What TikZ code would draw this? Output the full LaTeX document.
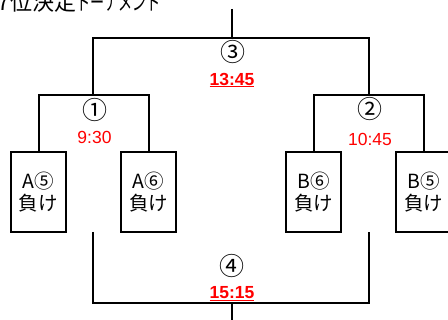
\documentclass[tikz,border=0pt]{standalone}
\usepackage{fontspec}
\setmainfont{Liberation Sans}
\newfontfamily\jp{Noto Sans CJK JP}
\newfontfamily\jpn[FakeStretch=0.64]{Noto Sans CJK JP}
\usepackage{tikz}
\usetikzlibrary{arrows,shapes}

\begin{document}
\begin{tikzpicture}[x=1pt,y=-1pt,line width=2pt]
\useasboundingbox (0,0) rectangle (448,320);
\tikzstyle{every node}=[inner sep=0pt]
\tikzstyle{loser}=[draw,line width=2pt,minimum width=55pt,minimum height=80pt,align=center,font=\jp\fontsize{19.5}{22}\selectfont]
\tikzstyle{gameno}=[font=\jp\fontsize{25}{26}\selectfont]
\tikzstyle{kickoff}=[text=red,font=\fontsize{17.5}{20}\selectfont]
% title (cut off at the top)
\node[anchor=base west,font=\jp\fontsize{22}{24}\selectfont] (title) at (-3,10.5) {7位決定{\jpn トーナメント}};
% losers of the first round
\node[loser] (a5) at (38.5,192) {A⑤\\負け};
\node[loser] (a6) at (148.5,192) {A⑥\\負け};
\node[loser] (b6) at (313.5,192) {B⑥\\負け};
\node[loser] (b5) at (423.5,192) {B⑤\\負け};
% joints of the brackets
\coordinate (top) at (232,9);
\coordinate (m3) at (232,38);
\coordinate (m1) at (93,95);
\coordinate (m2) at (369,95);
\coordinate (q1) at (93,232);
\coordinate (q2) at (369,232);
\coordinate (m4) at (232,303);
\coordinate (bot) at (232,325);
% games and times
\node[gameno] (g1) at (95,110) {①};
\node[kickoff] (t1) at (94.5,137) {9:30};
\node[gameno] (g2) at (370,109) {②};
\node[kickoff] (t2) at (370,139) {10:45};
\node[gameno] (g3) at (232.5,52) {③};
\node[kickoff] (t3) at (232,80) {\underline{\textbf{13:45}}};
\node[gameno] (g4) at (232,266) {④};
\node[kickoff] (t4) at (232,294) {\underline{\textbf{15:15}}};
\draw (top) -- (m3);
\draw (m1) |- (m3) -| (m2);
\foreach \l/\m/\r in {a5/m1/a6,b6/m2/b5}
\draw (\l.north) |- (\m) -| (\r.north);
\draw (q1) |- (m4) -| (q2);
\draw (m4) -- (bot);
\end{tikzpicture}
\end{document}
